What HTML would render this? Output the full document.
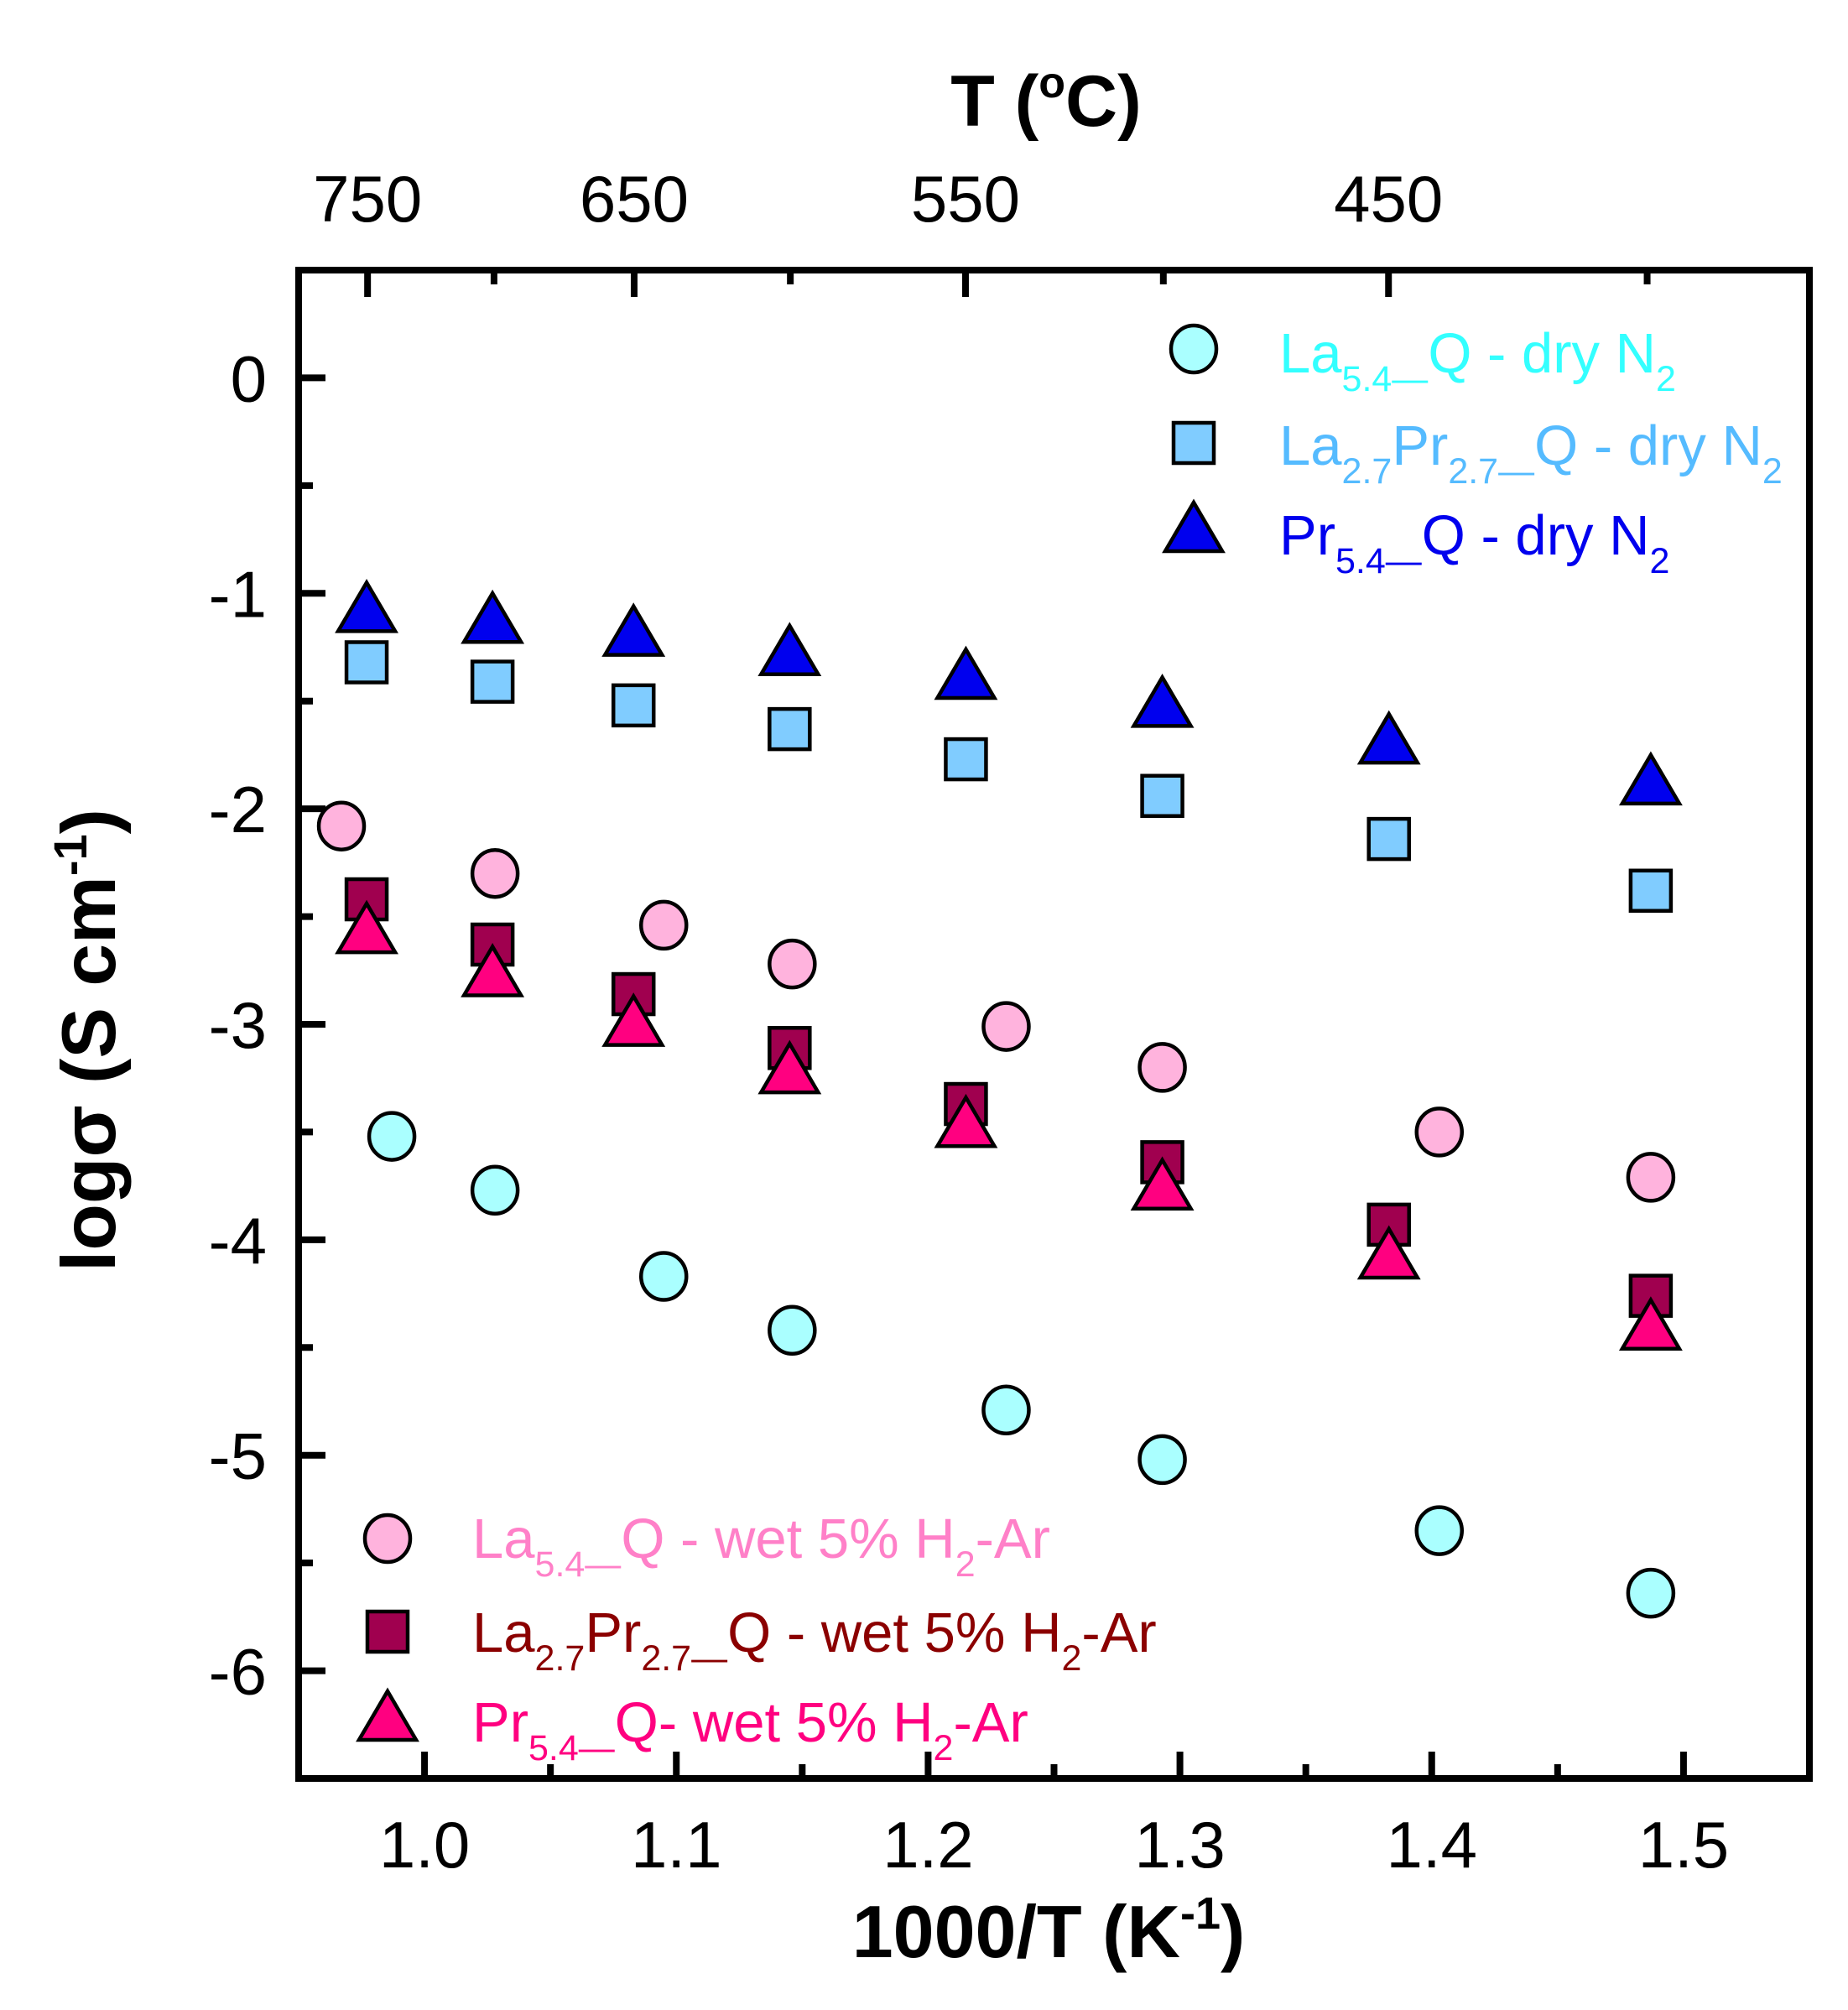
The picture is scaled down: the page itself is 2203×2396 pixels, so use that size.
<!DOCTYPE html>
<html><head><meta charset="utf-8"><style>
html,body{margin:0;padding:0;background:#fff;}
svg{display:block;font-family:"Liberation Sans",Arial,sans-serif;}
</style></head><body>
<svg id="chart" width="2203" height="2396" viewBox="0 0 2203 2396" xmlns="http://www.w3.org/2000/svg">
<g id="ticks"></g>
<g id="marks"></g>
<rect x="356" y="322" width="1801" height="1798" fill="none" stroke="#000" stroke-width="8"/>
<g id="labels" font-size="78"></g>
<text x="1250" y="2333" font-size="88" font-weight="bold" text-anchor="middle">1000/T (K<tspan dy="-34" font-size="54">-1</tspan><tspan dy="34">)</tspan></text>
<text x="1247" y="150" font-size="86" font-weight="bold" text-anchor="middle">T (<tspan dy="-34" font-size="52">o</tspan><tspan dy="34">C)</tspan></text>
<text transform="translate(137,1240) rotate(-90)" font-size="91" font-weight="bold" text-anchor="middle">logσ (S cm<tspan dy="-34" font-size="56">-1</tspan><tspan dy="34">)</tspan></text>
<g id="legend" font-size="67"></g>
</svg>
<script>
const xTicks=[1.0,1.1,1.2,1.3,1.4,1.5];
const xMinor=[0.95,1.05,1.15,1.25,1.35,1.45,1.55];
const yTicks=[0,-1,-2,-3,-4,-5,-6];
const yMinor=[0.5,-0.5,-1.5,-2.5,-3.5,-4.5,-5.5,-6.5];
const topMajor=[750,650,550,450];
const topMinor=[700,600,500,400];
const xLa54=[0.987,1.028,1.095,1.146,1.231,1.293,1.403,1.487];
const xStd=[0.977,1.027,1.083,1.145,1.215,1.293,1.383,1.487];
const xLa54w=[0.967,1.028,1.095,1.146,1.231,1.293,1.403,1.487];
const yLa54Dry=[-3.52,-3.77,-4.17,-4.42,-4.79,-5.02,-5.35,-5.64];
const yLaPrDry=[-1.32,-1.41,-1.52,-1.63,-1.77,-1.94,-2.14,-2.38];
const yPr54Dry=[-1.09,-1.14,-1.20,-1.29,-1.40,-1.53,-1.70,-1.89];
const yLa54Wet=[-2.08,-2.30,-2.54,-2.72,-3.01,-3.20,-3.50,-3.71];
const yLaPrWet=[-2.42,-2.63,-2.86,-3.11,-3.37,-3.64,-3.93,-4.26];
const yPr54Wet=[-2.58,-2.78,-3.01,-3.23,-3.48,-3.77,-4.09,-4.42];

const NS="http://www.w3.org/2000/svg";
const X0=356,X1=2157,Y0=322,Y1=2120,XMIN=0.95,XMAX=1.55,YMIN=-6.5,YMAX=0.5;
function sx(v){return X0+(v-XMIN)/(XMAX-XMIN)*(X1-X0);}
function sy(v){return Y1-(v-YMIN)/(YMAX-YMIN)*(Y1-Y0);}
function mk(tag,attrs,parent){const e=document.createElementNS(NS,tag);for(const k in attrs)e.setAttribute(k,attrs[k]);parent.appendChild(e);return e;}
const gT=document.getElementById('ticks'),gL=document.getElementById('labels'),gM=document.getElementById('marks'),gLeg=document.getElementById('legend');
function line(x1,y1,x2,y2,name){const l=mk('line',{x1:x1,y1:y1,x2:x2,y2:y2,stroke:'#000','stroke-width':8},gT);

}
xTicks.forEach(v=>{line(sx(v),Y1,sx(v),Y1-32,'x-major-tick');
const t=mk('text',{x:sx(v),y:2226,'text-anchor':'middle'},gL);t.textContent=v.toFixed(1);

});
xMinor.forEach(v=>line(sx(v),Y1,sx(v),Y1-17,'x-minor-tick'));
yTicks.forEach(v=>{line(X0,sy(v),X0+32,sy(v),'y-major-tick');
const t=mk('text',{x:318,y:sy(v)+28,'text-anchor':'end'},gL);t.textContent=String(v);

});
yMinor.forEach(v=>line(X0,sy(v),X0+17,sy(v),'y-minor-tick'));
function tx(c){return 1000/(c+273.15);}
topMajor.forEach(c=>{line(sx(tx(c)),Y0,sx(tx(c)),Y0+32,'top-major-tick');
const t=mk('text',{x:sx(tx(c)),y:264,'text-anchor':'middle'},gL);t.textContent=String(c);

});
topMinor.forEach(c=>line(sx(tx(c)),Y0,sx(tx(c)),Y0+17,'top-minor-tick'));

function marker(shape,cx,cy,fill,parent,name){let e;
if(shape==='c')e=mk('ellipse',{cx:cx,cy:cy,rx:27,ry:28,fill:fill,stroke:'#000','stroke-width':4.5},parent);
else if(shape==='s')e=mk('rect',{x:cx-24,y:cy-24,width:48,height:48,fill:fill,stroke:'#000','stroke-width':4.5},parent);
else e=mk('polygon',{points:(cx-34)+','+(cy+22)+' '+(cx+34)+','+(cy+22)+' '+cx+','+(cy-36),fill:fill,stroke:'#000','stroke-width':4.5},parent);

}
const series=[
['c',xLa54,yLa54Dry,'#aaffff','la54-dry-point'],
['s',xStd,yLaPrDry,'#80ccff','la27pr27-dry-point'],
['t',xStd,yPr54Dry,'#0000ee','pr54-dry-point'],
['c',xLa54w,yLa54Wet,'#ffb3dd','la54-wet-point'],
['s',xStd,yLaPrWet,'#a0004f','la27pr27-wet-point'],
['t',xStd,yPr54Wet,'#ff0080','pr54-wet-point']];
series.forEach(s=>s[1].forEach((xv,i)=>marker(s[0],sx(xv),sy(s[2][i]),s[3],gM,s[4])));

function leg(shape,fill,mx,my,tx_,ty,color,parts,name){
marker(shape,mx,my,fill,gLeg,name+'-marker');
const t=mk('text',{x:tx_,y:ty,fill:color},gLeg);


parts.forEach(p=>{const sp=mk('tspan',{},t);sp.textContent=p[0];if(p[1]){sp.setAttribute('font-size','43');sp.setAttribute('dy','22');}else if(p[2]){sp.setAttribute('dy','-22');}});}
leg('c','#aaffff',1423,416,1525,444,'#33ffff',[['La'],['5.4\u2014',1],['Q - dry N',0,1],['2',1]],'legend-la54-dry');
leg('s','#80ccff',1423,528,1525,554,'#55bbff',[['La'],['2.7',1],['Pr',0,1],['2.7\u2014',1],['Q - dry N',0,1],['2',1]],'legend-la27pr27-dry');
leg('t','#0000ee',1423,635,1525,661,'#0000ee',[['Pr'],['5.4\u2014',1],['Q - dry N',0,1],['2',1]],'legend-pr54-dry');
leg('c','#ffb3dd',462,1834,563,1857,'#ff80c8',[['La'],['5.4\u2014',1],['Q - wet 5% H',0,1],['2',1],['-Ar',0,1]],'legend-la54-wet');
leg('s','#a0004f',462,1945,563,1969,'#8b0000',[['La'],['2.7',1],['Pr',0,1],['2.7\u2014',1],['Q - wet 5% H',0,1],['2',1],['-Ar',0,1]],'legend-la27pr27-wet');
leg('t','#ff0080',462,2052,563,2076,'#ff0080',[['Pr'],['5.4\u2014',1],['Q- wet 5% H',0,1],['2',1],['-Ar',0,1]],'legend-pr54-wet');
</script>
</body></html>
